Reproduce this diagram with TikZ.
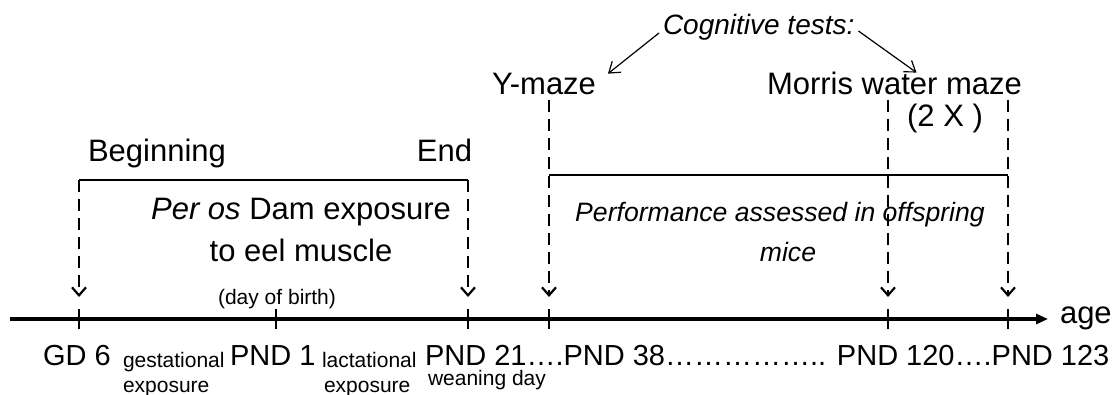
\documentclass[tikz,border=0pt]{standalone}
\usepackage{fontspec}
\setmainfont{Liberation Sans}
\usetikzlibrary{arrows.meta}
\tikzset{every node/.style={inner sep=0pt,outer sep=0pt}}
\tikzset{headtext/.style={font=\fontsize{15.5}{18}\selectfont}}
\tikzset{daytext/.style={font=\fontsize{14.5}{17}\selectfont}}
\tikzset{smalltext/.style={font=\fontsize{10.5}{12}\selectfont}}
\tikzset{slant/.style={font=\fontsize{13.3}{16}\selectfont\itshape}}
\tikzset{guide/.style={line width=1.1pt,dash pattern=on 6pt off 3.5pt,-{Straight Barb[length=4pt,width=7pt]}}}
\tikzset{pointer/.style={line width=0.6pt,-{Straight Barb[length=5pt,width=7pt]}}}

\begin{document}
\begin{tikzpicture}[x=0.5pt,y=-0.5pt]
      \useasboundingbox (0,0) rectangle (1113,395);

      \coordinate (gd6) at (79,319);
      \coordinate (pnd1) at (276,319);
      \coordinate (pnd21) at (468,319);
      \coordinate (pnd38) at (549,319);
      \coordinate (pnd120) at (888,319);
      \coordinate (pnd123) at (1008,319);
      \coordinate (start) at (10,319);
      \coordinate (tip) at (1048,319);

      \coordinate (gd6 top) at (79,180);
      \coordinate (pnd21 top) at (468,180);
      \coordinate (pnd38 top) at (549,100);
      \coordinate (pnd120 top) at (888,100);
      \coordinate (pnd123 top) at (1008,100);
      \coordinate (pnd38 br) at (549,175);
      \coordinate (pnd123 br) at (1008,175);

      \node[slant,anchor=base west,font=\fontsize{14}{16}\selectfont\itshape] (cog) at (663,35) {Cognitive tests:};
      \node[headtext,anchor=base west] (ymaze) at (492,95) {Y-maze};
      \node[headtext,anchor=base west] (mwm) at (767,95) {Morris water maze};
      \node[headtext,anchor=base] (twice) at (945,127) {(2 X )};
      \node[headtext,anchor=base west] (beg) at (88,162) {Beginning};
      \node[headtext,anchor=base east] (endtxt) at (472,162) {End};
      \node[headtext,anchor=base] (dam) at (301,220) {\textit{Per os} Dam exposure};
      \node[headtext,anchor=base] (eel) at (301,262) {to eel muscle};
      \node[slant,anchor=base] (perf) at (780,222) {Performance assessed in offspring};
      \node[slant,anchor=base] (mice) at (788,262) {mice};
      \node[smalltext,anchor=base] (birth) at (277,305) {(day of birth)};
      \node[headtext,anchor=base west] (age) at (1060,323) {age};

      \node[daytext,anchor=base west] (gd6txt) at (43,365) {GD 6};
      \node[smalltext,anchor=base west] (gest) at (123,367) {gestational};
      \node[smalltext,anchor=base west] (gestexp) at (123,392) {exposure};
      \node[daytext,anchor=base west] (pnd1txt) at (230,365) {PND 1};
      \node[smalltext,anchor=base west] (lact) at (322,367) {lactational};
      \node[smalltext,anchor=base west] (lactexp) at (324,392) {exposure};
      \node[daytext,anchor=base west] (pndtxt) at (425,365) {PND 21….PND 38…………….. PND 120….PND 123};
      \node[smalltext,anchor=base west] (wean) at (428,385) {weaning day};

      \draw[line width=1.6pt,-{Triangle[length=6pt,width=5pt]}] (start) -- (tip);
      \foreach \t in {gd6,pnd1,pnd21,pnd38,pnd120,pnd123}
        \draw[line width=1.2pt] ([yshift=5pt]\t) -- ([yshift=-5pt]\t);
      \foreach \t in {gd6,pnd21,pnd38,pnd120,pnd123}
        \draw[guide] (\t\space top) -- ([yshift=11pt]\t);

      \draw[line width=1pt] (gd6 top) -- (pnd21 top);
      \draw[line width=1pt] (pnd38 br) -- (pnd123 br);

      \draw[pointer] ([shift={(-2pt,1pt)}]cog.base west) -- ([xshift=6pt]ymaze.north east);
      \draw[pointer] ([shift={(2pt,2pt)}]cog.base east) -- ([xshift=11pt]mwm.north);
    \end{tikzpicture}
\end{document}
